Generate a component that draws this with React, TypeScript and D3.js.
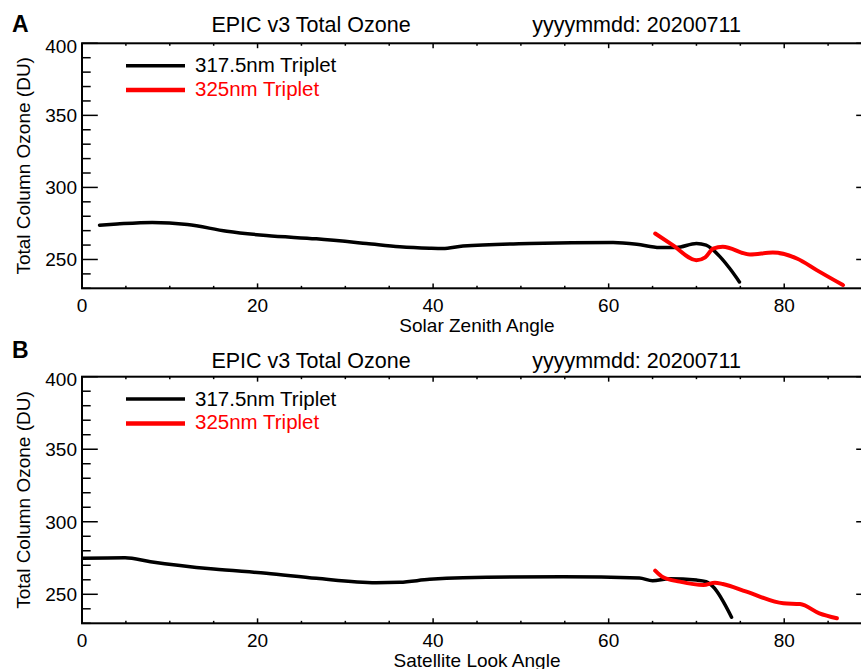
import React from "react";
import * as d3 from "d3";

// ---------- data ----------
const xTicksMajor = [0, 20, 40, 60, 80];
const yTicksMajor = [250, 300, 350, 400];

// Panel A: Solar Zenith Angle
const szaBlackX = [2, 4, 8, 12, 16.5, 21, 26.7, 32.4, 36.2, 39.6, 41.1, 43.4, 51, 60.5, 63.2, 65.8, 67.7, 70, 71.1, 72.7, 73.8, 74.9];
const szaBlackY = [273.8, 274.6, 275.7, 274.3, 269.6, 266.6, 264.3, 261.1, 258.8, 257.8, 257.6, 259.4, 261.1, 261.8, 260.6, 258.3, 258.3, 261.1, 259.9, 251.8, 243.7, 234.4];
const szaRedX = [65.3, 67.3, 70, 71, 71.9, 73, 76.1, 78.7, 81.5, 83.7, 86.7];
const szaRedY = [268, 260, 249.5, 251.5, 257.6, 258.9, 253.5, 254.8, 250.5, 242.6, 232.2];

// Panel B: Satellite Look Angle
const slaBlackX = [0, 4.9, 7.8, 15, 21, 26.7, 33.5, 36.2, 39.6, 43.4, 54.8, 63.5, 65, 66.9, 70, 71.1, 71.9, 74];
const slaBlackY = [274.8, 275.2, 272.5, 267.4, 264.5, 261, 258, 258.3, 260.3, 261.4, 262.1, 261.2, 259.4, 260.7, 259.8, 258.7, 255.2, 234.2];
const slaRedX = [65.3, 66.2, 68.1, 70.8, 72.1, 73, 75.7, 79.9, 81.8, 84, 86];
const slaRedY = [266.3, 261.7, 258.7, 256.4, 258, 257.1, 251.8, 243.8, 243.3, 236.9, 233.5];

const legendLabels = ["317.5nm Triplet", "325nm Triplet"];
const titleText = "EPIC v3 Total Ozone";
const dateText = "yyyymmdd: 20200711";
const yTitle = "Total Column Ozone (DU)";

const FONT = "'Liberation Sans', Arial, Helvetica, sans-serif";

type PanelProps = {
  top: number;
  bottom: number;
  letter: string;
  letterY: number;
  titleY: number;
  xTitle: string;
  bx: number[];
  by: number[];
  rx: number[];
  ry: number[];
  id: string;
};

const LEFT = 82;
const RIGHT = 872;

function Panel({ top, bottom, letter, letterY, titleY, xTitle, bx, by, rx, ry, id }: PanelProps) {
  const x = d3.scaleLinear().domain([0, 90]).range([LEFT, RIGHT]);
  const y = d3.scaleLinear().domain([230, 400]).range([bottom, top]);
  const line = d3
    .line<[number, number]>()
    .x((d) => x(d[0]))
    .y((d) => y(d[1]))
    .curve(d3.curveMonotoneX);
  const black = bx.map((v, i) => [v, by[i]] as [number, number]);
  const red = rx.map((v, i) => [v, ry[i]] as [number, number]);
  const xMinor = d3.range(0, 91, 5);
  const yMinor = d3.range(230, 401, 10);
  const ph = bottom - top;
  const pw = RIGHT - LEFT;
  const xTickMaj = ph * 0.02;
  const yTickMaj = pw * 0.02;
  return (
    <g>
      <defs>
        <clipPath id={id}>
          <rect x={LEFT} y={top} width={pw} height={ph} />
        </clipPath>
      </defs>
      <text x={12} y={letterY} fontFamily={FONT} fontWeight="bold" fontSize={23}>
        {letter}
      </text>
      <text x={311} y={titleY} textAnchor="middle" fontFamily={FONT} fontSize={21.5}>
        {titleText}
      </text>
      <text x={636.5} y={titleY} textAnchor="middle" fontFamily={FONT} fontSize={21.5}>
        {dateText}
      </text>
      {/* frame */}
      <rect x={LEFT} y={top} width={pw} height={ph} fill="none" stroke="#000" strokeWidth={2} />
      {/* x ticks bottom & top */}
      {xMinor.map((t) => {
        const major = t % 20 === 0;
        const len = major ? xTickMaj : xTickMaj / 2;
        return (
          <g key={"x" + t}>
            <line x1={x(t)} x2={x(t)} y1={bottom} y2={bottom - len} stroke="#000" strokeWidth={1.5} />
            <line x1={x(t)} x2={x(t)} y1={top} y2={top + len} stroke="#000" strokeWidth={1.5} />
          </g>
        );
      })}
      {yMinor.map((t) => {
        const major = t % 50 === 0;
        const len = major ? yTickMaj : yTickMaj * 0.55;
        return (
          <g key={"y" + t}>
            <line x1={LEFT} x2={LEFT + len} y1={y(t)} y2={y(t)} stroke="#000" strokeWidth={1.5} />
            <line x1={RIGHT} x2={RIGHT - len} y1={y(t)} y2={y(t)} stroke="#000" strokeWidth={1.5} />
          </g>
        );
      })}
      {xTicksMajor.map((t) => (
        <text key={"xl" + t} x={x(t)} y={bottom + 24} textAnchor="middle" fontFamily={FONT} fontSize={19}>
          {t}
        </text>
      ))}
      {yTicksMajor.map((t) => (
        <text
          key={"yl" + t}
          x={LEFT - 5}
          y={y(t) + 7 + (t === 400 ? 2.5 : 0)}
          textAnchor="end"
          fontFamily={FONT}
          fontSize={19}
        >
          {t}
        </text>
      ))}
      <text x={(LEFT + RIGHT) / 2} y={bottom + 44} textAnchor="middle" fontFamily={FONT} fontSize={19}>
        {xTitle}
      </text>
      <text
        transform={`translate(29.5, ${(top + bottom) / 2}) rotate(-90)`}
        textAnchor="middle"
        fontFamily={FONT}
        fontSize={19}
      >
        {yTitle}
      </text>
      {/* legend */}
      <line x1={126} x2={185} y1={top + 22.4} y2={top + 22.4} stroke="#000" strokeWidth={3.5} />
      <text x={195} y={top + 29} fontFamily={FONT} fontSize={20.5}>
        {legendLabels[0]}
      </text>
      <line x1={126} x2={185} y1={top + 46.7} y2={top + 46.7} stroke="#ff0000" strokeWidth={4.5} />
      <text x={195} y={top + 52.5} fontFamily={FONT} fontSize={20.5} fill="#ff0000">
        {legendLabels[1]}
      </text>
      <g clipPath={`url(#${id})`}>
        <path d={line(black) || ""} fill="none" stroke="#000" strokeWidth={3.5} strokeLinejoin="round" strokeLinecap="round" />
        <path d={line(red) || ""} fill="none" stroke="#ff0000" strokeWidth={4} strokeLinejoin="round" strokeLinecap="round" />
      </g>
    </g>
  );
}

export default function App() {
  return (
    <svg
      width={861}
      height={669}
      style={{ position: "absolute", left: 0, top: 0, display: "block", background: "#fff" }}
    >
      <rect x={0} y={0} width={861} height={669} fill="#fff" />
      <Panel top={43.3} bottom={288.3} letter="A" letterY={32.3} titleY={32.3} xTitle="Solar Zenith Angle" bx={szaBlackX} by={szaBlackY} rx={szaRedX} ry={szaRedY} id="clipA" />
      <Panel top={376.7} bottom={623.3} letter="B" letterY={358.3} titleY={367.5} xTitle="Satellite Look Angle" bx={slaBlackX} by={slaBlackY} rx={slaRedX} ry={slaRedY} id="clipB" />
    </svg>
  );
}
